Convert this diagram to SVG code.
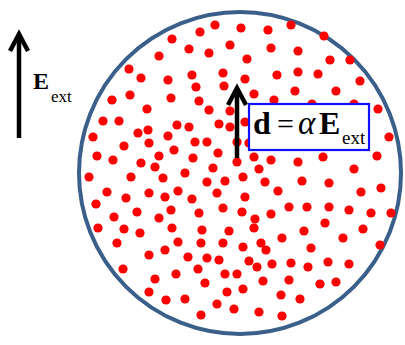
<svg xmlns="http://www.w3.org/2000/svg" xmlns:xlink="http://www.w3.org/1999/xlink" width="405" height="345" viewBox="0 0 405 345">
<style>
.sphere{fill:#ffffff;stroke:#3b5f8b;stroke-width:4}
.dot{fill:#ff0000}
.arr{fill:none;stroke:#000000;stroke-width:4.5;stroke-linejoin:miter;stroke-linecap:butt}
.box{fill:#ffffff;stroke:#1010ff;stroke-width:2.2}
.t{font-family:"Liberation Serif","Times New Roman",serif;fill:#000000}
.b{font-weight:bold}
.i{font-style:italic}
</style>
<defs>
<circle id="d" r="4.6" class="dot"/>
</defs>
<rect width="405" height="345" fill="#ffffff"/>
<g id="sphere">
<circle class="sphere" cx="240" cy="173" r="161"/>
</g>
<g id="dots">
<use xlink:href="#d" x="172" y="39"/><use xlink:href="#d" x="159" y="56"/><use xlink:href="#d" x="129" y="69"/><use xlink:href="#d" x="141" y="78"/><use xlink:href="#d" x="168" y="80"/><use xlink:href="#d" x="130" y="95"/><use xlink:href="#d" x="112" y="100"/><use xlink:href="#d" x="171" y="98"/><use xlink:href="#d" x="147" y="109"/><use xlink:href="#d" x="103" y="121"/><use xlink:href="#d" x="119" y="121"/>
<use xlink:href="#d" x="200" y="32"/><use xlink:href="#d" x="215" y="25"/><use xlink:href="#d" x="241" y="28"/><use xlink:href="#d" x="268" y="30"/><use xlink:href="#d" x="291" y="25"/><use xlink:href="#d" x="189" y="49"/><use xlink:href="#d" x="209" y="53"/><use xlink:href="#d" x="230" y="45"/><use xlink:href="#d" x="271" y="48"/><use xlink:href="#d" x="247" y="59"/><use xlink:href="#d" x="298" y="51"/><use xlink:href="#d" x="192" y="75"/><use xlink:href="#d" x="196" y="87"/><use xlink:href="#d" x="223" y="73"/><use xlink:href="#d" x="245" y="79"/><use xlink:href="#d" x="277" y="75"/><use xlink:href="#d" x="224" y="86"/><use xlink:href="#d" x="254" y="94"/><use xlink:href="#d" x="274" y="100"/><use xlink:href="#d" x="199" y="101"/><use xlink:href="#d" x="209" y="110"/><use xlink:href="#d" x="230" y="111"/><use xlink:href="#d" x="298" y="72"/><use xlink:href="#d" x="295" y="91"/>
<use xlink:href="#d" x="324" y="36"/><use xlink:href="#d" x="330" y="60"/><use xlink:href="#d" x="350" y="60"/><use xlink:href="#d" x="318" y="74"/><use xlink:href="#d" x="360" y="81"/><use xlink:href="#d" x="336" y="91"/><use xlink:href="#d" x="312" y="104"/><use xlink:href="#d" x="354" y="104"/><use xlink:href="#d" x="378" y="109"/>
<use xlink:href="#d" x="93" y="137"/><use xlink:href="#d" x="138" y="133"/><use xlink:href="#d" x="148" y="130"/><use xlink:href="#d" x="149" y="143"/><use xlink:href="#d" x="177" y="125"/><use xlink:href="#d" x="168" y="136"/><use xlink:href="#d" x="124" y="146"/><use xlink:href="#d" x="97" y="156"/><use xlink:href="#d" x="113" y="160"/><use xlink:href="#d" x="141" y="163"/><use xlink:href="#d" x="159" y="156"/><use xlink:href="#d" x="155" y="167"/><use xlink:href="#d" x="174" y="150"/><use xlink:href="#d" x="89" y="177"/><use xlink:href="#d" x="131" y="177"/><use xlink:href="#d" x="163" y="178"/><use xlink:href="#d" x="185" y="173"/><use xlink:href="#d" x="107" y="192"/><use xlink:href="#d" x="149" y="193"/><use xlink:href="#d" x="126" y="198"/><use xlink:href="#d" x="165" y="197"/><use xlink:href="#d" x="178" y="191"/><use xlink:href="#d" x="96" y="204"/><use xlink:href="#d" x="137" y="212"/><use xlink:href="#d" x="171" y="210"/><use xlink:href="#d" x="114" y="217"/><use xlink:href="#d" x="159" y="218"/><use xlink:href="#d" x="98" y="228"/><use xlink:href="#d" x="124" y="229"/><use xlink:href="#d" x="172" y="228"/>
<use xlink:href="#d" x="189" y="127"/><use xlink:href="#d" x="219" y="124"/><use xlink:href="#d" x="230" y="127"/><use xlink:href="#d" x="245" y="122"/><use xlink:href="#d" x="195" y="142"/><use xlink:href="#d" x="207" y="142"/><use xlink:href="#d" x="237" y="142"/><use xlink:href="#d" x="249" y="143"/><use xlink:href="#d" x="218" y="153"/><use xlink:href="#d" x="193" y="158"/><use xlink:href="#d" x="237" y="162"/><use xlink:href="#d" x="254" y="157"/><use xlink:href="#d" x="271" y="160"/><use xlink:href="#d" x="298" y="162"/><use xlink:href="#d" x="213" y="168"/><use xlink:href="#d" x="259" y="169"/><use xlink:href="#d" x="207" y="182"/><use xlink:href="#d" x="225" y="181"/><use xlink:href="#d" x="243" y="177"/><use xlink:href="#d" x="265" y="182"/><use xlink:href="#d" x="217" y="193"/><use xlink:href="#d" x="278" y="191"/><use xlink:href="#d" x="192" y="199"/><use xlink:href="#d" x="245" y="197"/><use xlink:href="#d" x="199" y="213"/><use xlink:href="#d" x="223" y="208"/><use xlink:href="#d" x="242" y="212"/><use xlink:href="#d" x="271" y="214"/><use xlink:href="#d" x="289" y="207"/><use xlink:href="#d" x="255" y="219"/><use xlink:href="#d" x="202" y="230"/><use xlink:href="#d" x="229" y="231"/><use xlink:href="#d" x="254" y="228"/>
<use xlink:href="#d" x="389" y="137"/><use xlink:href="#d" x="377" y="156"/><use xlink:href="#d" x="323" y="157"/><use xlink:href="#d" x="354" y="169"/><use xlink:href="#d" x="302" y="181"/><use xlink:href="#d" x="329" y="183"/><use xlink:href="#d" x="361" y="192"/><use xlink:href="#d" x="381" y="188"/><use xlink:href="#d" x="307" y="207"/><use xlink:href="#d" x="329" y="207"/><use xlink:href="#d" x="349" y="210"/><use xlink:href="#d" x="371" y="213"/><use xlink:href="#d" x="391" y="213"/><use xlink:href="#d" x="325" y="223"/><use xlink:href="#d" x="363" y="229"/><use xlink:href="#d" x="304" y="231"/>
<use xlink:href="#d" x="140" y="233"/><use xlink:href="#d" x="117" y="243"/><use xlink:href="#d" x="178" y="242"/><use xlink:href="#d" x="149" y="255"/><use xlink:href="#d" x="165" y="250"/><use xlink:href="#d" x="188" y="257"/><use xlink:href="#d" x="123" y="269"/><use xlink:href="#d" x="176" y="274"/><use xlink:href="#d" x="155" y="279"/><use xlink:href="#d" x="149" y="292"/><use xlink:href="#d" x="166" y="300"/><use xlink:href="#d" x="185" y="299"/>
<use xlink:href="#d" x="201" y="243"/><use xlink:href="#d" x="223" y="243"/><use xlink:href="#d" x="243" y="247"/><use xlink:href="#d" x="261" y="243"/><use xlink:href="#d" x="266" y="250"/><use xlink:href="#d" x="282" y="238"/><use xlink:href="#d" x="207" y="258"/><use xlink:href="#d" x="219" y="260"/><use xlink:href="#d" x="249" y="261"/><use xlink:href="#d" x="257" y="267"/><use xlink:href="#d" x="272" y="264"/><use xlink:href="#d" x="291" y="263"/><use xlink:href="#d" x="198" y="269"/><use xlink:href="#d" x="225" y="274"/><use xlink:href="#d" x="237" y="274"/><use xlink:href="#d" x="263" y="281"/><use xlink:href="#d" x="289" y="280"/><use xlink:href="#d" x="205" y="283"/><use xlink:href="#d" x="243" y="289"/><use xlink:href="#d" x="227" y="292"/><use xlink:href="#d" x="281" y="295"/><use xlink:href="#d" x="217" y="304"/><use xlink:href="#d" x="234" y="309"/><use xlink:href="#d" x="259" y="312"/><use xlink:href="#d" x="201" y="315"/><use xlink:href="#d" x="282" y="316"/>
<use xlink:href="#d" x="343" y="238"/><use xlink:href="#d" x="311" y="248"/><use xlink:href="#d" x="380" y="245"/><use xlink:href="#d" x="308" y="267"/><use xlink:href="#d" x="328" y="262"/><use xlink:href="#d" x="349" y="264"/><use xlink:href="#d" x="320" y="284"/><use xlink:href="#d" x="336" y="282"/><use xlink:href="#d" x="300" y="299"/>
</g>
<g id="connectors">
<g id="arrow-ext">
<line class="arr" x1="19" y1="138" x2="19" y2="36"/>
<path class="arr" d="M10,51 L19,34 L28,51"/>
</g>
<g id="arrow-dipole">
<line class="arr" x1="237" y1="158" x2="237" y2="91"/>
<path class="arr" d="M228,105 L237,88 L246,105"/>
</g>
</g>
<g id="label-ext">
<text class="t" x="33" y="89"><tspan class="b" font-size="24">E</tspan><tspan font-size="17" x="51" y="102">ext</tspan></text>
</g>
<g id="dipole-box">
<rect class="box" x="249" y="104" width="120" height="46"/>
<text class="t" y="134"><tspan class="b" x="253" font-size="32">d</tspan><tspan x="277" font-size="30">=</tspan><tspan class="i" x="298" font-size="33">α</tspan><tspan class="b" x="319" font-size="32">E</tspan><tspan x="342" y="144" font-size="19">ext</tspan></text>
</g>
</svg>
